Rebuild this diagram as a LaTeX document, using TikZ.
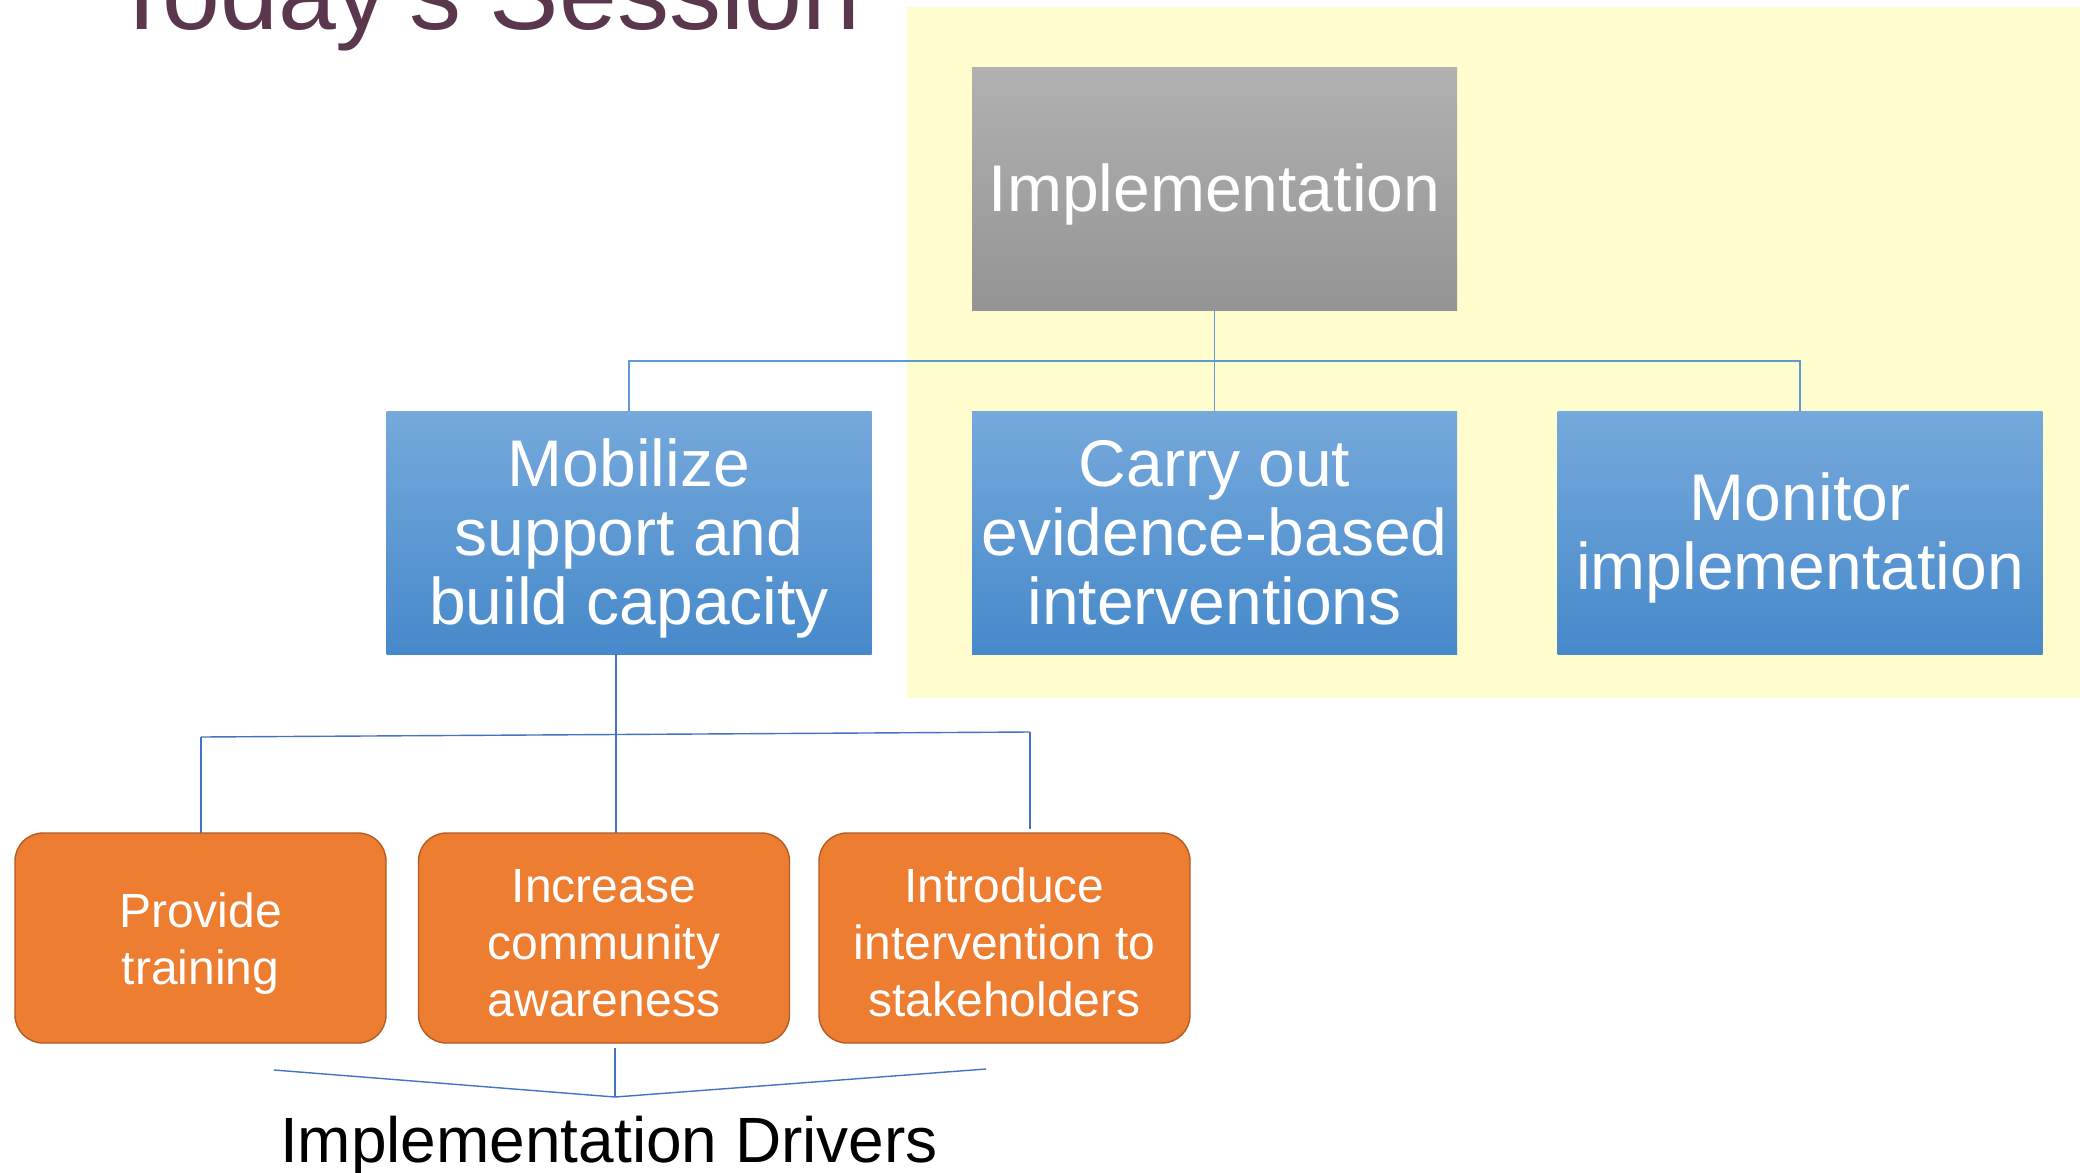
\documentclass[tikz,border=0pt]{standalone}
\usepackage{fontspec}
\setmainfont{Liberation Sans}
\definecolor{titlecol}{RGB}{91,55,77}
\definecolor{yel}{RGB}{255,253,206}
\definecolor{grayT}{RGB}{177,177,177}
\definecolor{grayB}{RGB}{148,148,148}
\definecolor{blueT}{RGB}{118,169,220}
\definecolor{blueB}{RGB}{70,137,202}
\definecolor{orng}{RGB}{237,125,49}
\definecolor{orngD}{RGB}{180,92,34}
\definecolor{linec}{RGB}{68,114,196}
\definecolor{lightline}{RGB}{98,152,210}
\newcommand\toppad[1]{\rule{0pt}{#1}}
\tikzset{
  topbox/.style={rectangle, inner sep=0pt, minimum width=242.5pt, minimum height=121pt,
    top color=grayT, bottom color=grayB, text=white, align=center,
    font=\fontsize{33}{34.5}\selectfont},
  bluebox/.style={rectangle, inner sep=0pt, minimum width=242.5pt, minimum height=121.5pt,
    top color=blueT, bottom color=blueB, text=white, align=center,
    font=\fontsize{33}{34.5}\selectfont},
  orbox/.style={rectangle, rounded corners=14pt, inner sep=0pt, minimum width=185.5pt,
    minimum height=105pt, fill=orng, draw=orngD, line width=0.7pt, text=white, align=center,
    font=\fontsize{24}{28.5}\selectfont},
  conn/.style={draw=lightline, line width=0.7pt},
  conn2/.style={draw=linec, line width=0.7pt},
}
\begin{document}
\begin{tikzpicture}[x=0.5pt, y=-0.5pt]
\useasboundingbox (0,0) rectangle (2080,1172);
\clip (0,0) rectangle (2080,1172);
\fill[white] (0,0) rectangle (2080,1172);
% yellow highlight
\fill[yel] (907,7) rectangle (2080,698);
% title
\node[anchor=base west, inner sep=0pt, text=titlecol, font=\fontsize{52}{60}\selectfont] (title) at (110,30) {Today’s Session};
% top level
\node[topbox] (impl) at (1214.5,189) {\toppad{29pt}Implementation};
\node[bluebox] (mob) at (629,532.5) {\toppad{29.5pt}Mobilize\\support and\\build capacity};
\node[bluebox] (carry) at (1214.5,532.5) {Carry out\\evidence-based\\interventions};
\node[bluebox] (mon) at (1800,532.5) {\toppad{29pt}Monitor\\implementation};
\coordinate (hub) at (1214.5,361);
\draw[conn] (impl.south) -- (carry.north);
\draw[conn] (mob.north) |- (hub) -| (mon.north);
% orange boxes
\node[orbox] (o1) at (200.5,938) {\toppad{23pt}Provide\\training};
\node[orbox] (o2) at (604,938) {\toppad{22pt}Increase\\community\\awareness};
\node[orbox] (o3) at (1004.5,938) {\toppad{22pt}Introduce\\intervention to\\stakeholders};
\coordinate (m1) at (616,654);
\coordinate (m2) at (616,833);
\coordinate (hl) at (201,737);
\coordinate (hr) at (1030,732);
\coordinate (d1) at (201,833);
\coordinate (d3) at (1030,829);
\draw[conn2] (m1) -- (m2);
\draw[conn2] (hl) -- (hr);
\draw[conn2] (hl) -- (d1);
\draw[conn2] (hr) -- (d3);
% bracket
\coordinate (bl) at (274,1070);
\coordinate (bc) at (615,1097);
\coordinate (br) at (986,1069);
\coordinate (bt) at (615,1048);
\draw[conn2] (bl) -- (bc) -- (br);
\draw[conn2] (bt) -- (bc);
\node[anchor=base, inner sep=0pt, font=\fontsize{32}{36}\selectfont] (drivers) at (609,1162) {Implementation Drivers};
\end{tikzpicture}
\end{document}
